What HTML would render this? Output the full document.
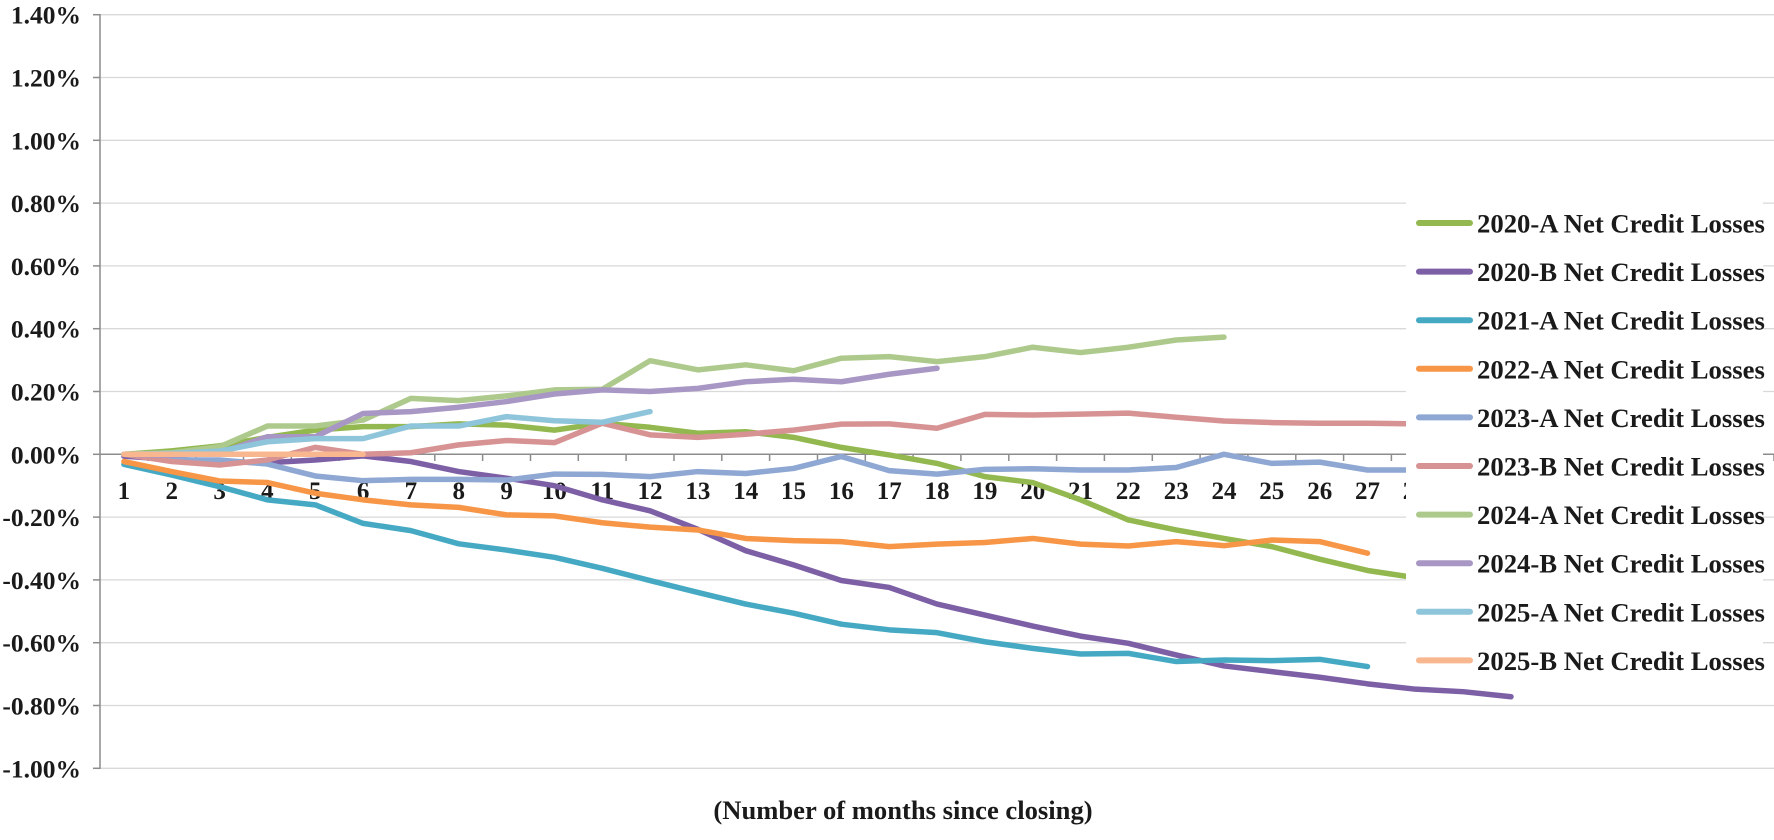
<!DOCTYPE html>
<html>
<head>
<meta charset="utf-8">
<style>
  html, body { margin: 0; padding: 0; background: #ffffff; }
  svg { display: block; }
  text { font-family: "Liberation Serif", "Times New Roman", serif; font-weight: bold; fill: #1a1a1a; }
</style>
</head>
<body>
<svg width="1774" height="840" viewBox="0 0 1774 840" xmlns="http://www.w3.org/2000/svg">
  <rect x="0" y="0" width="1774" height="840" fill="#ffffff"/>

  <!-- gridlines -->
  <g stroke="#d9d9d9" stroke-width="1.3">
    <line x1="100" y1="14.7" x2="1774" y2="14.7"/>
    <line x1="100" y1="77.5" x2="1774" y2="77.5"/>
    <line x1="100" y1="140.3" x2="1774" y2="140.3"/>
    <line x1="100" y1="203.1" x2="1774" y2="203.1"/>
    <line x1="100" y1="265.9" x2="1774" y2="265.9"/>
    <line x1="100" y1="328.7" x2="1774" y2="328.7"/>
    <line x1="100" y1="391.5" x2="1774" y2="391.5"/>
    <line x1="100" y1="517.1" x2="1774" y2="517.1"/>
    <line x1="100" y1="579.9" x2="1774" y2="579.9"/>
    <line x1="100" y1="642.7" x2="1774" y2="642.7"/>
    <line x1="100" y1="705.5" x2="1774" y2="705.5"/>
    <line x1="100" y1="768.3" x2="1774" y2="768.3"/>
  </g>

  <!-- axes -->
  <g stroke="#8c8c8c" stroke-width="1.5">
    <line x1="100" y1="14" x2="100" y2="769"/>
    <line x1="100" y1="454.3" x2="1774" y2="454.3"/>
    <!-- y ticks -->
    <line x1="93" y1="14.7" x2="100" y2="14.7"/>
    <line x1="93" y1="77.5" x2="100" y2="77.5"/>
    <line x1="93" y1="140.3" x2="100" y2="140.3"/>
    <line x1="93" y1="203.1" x2="100" y2="203.1"/>
    <line x1="93" y1="265.9" x2="100" y2="265.9"/>
    <line x1="93" y1="328.7" x2="100" y2="328.7"/>
    <line x1="93" y1="391.5" x2="100" y2="391.5"/>
    <line x1="93" y1="454.3" x2="100" y2="454.3"/>
    <line x1="93" y1="517.1" x2="100" y2="517.1"/>
    <line x1="93" y1="579.9" x2="100" y2="579.9"/>
    <line x1="93" y1="642.7" x2="100" y2="642.7"/>
    <line x1="93" y1="705.5" x2="100" y2="705.5"/>
    <line x1="93" y1="768.3" x2="100" y2="768.3"/>
  </g>
  <!-- x ticks -->
  <g stroke="#8c8c8c" stroke-width="1.5">
    <line x1="147.8" y1="454" x2="147.8" y2="461"/>
    <line x1="195.7" y1="454" x2="195.7" y2="461"/>
    <line x1="243.5" y1="454" x2="243.5" y2="461"/>
    <line x1="291.3" y1="454" x2="291.3" y2="461"/>
    <line x1="339.2" y1="454" x2="339.2" y2="461"/>
    <line x1="387.0" y1="454" x2="387.0" y2="461"/>
    <line x1="434.8" y1="454" x2="434.8" y2="461"/>
    <line x1="482.6" y1="454" x2="482.6" y2="461"/>
    <line x1="530.5" y1="454" x2="530.5" y2="461"/>
    <line x1="578.3" y1="454" x2="578.3" y2="461"/>
    <line x1="626.1" y1="454" x2="626.1" y2="461"/>
    <line x1="674.0" y1="454" x2="674.0" y2="461"/>
    <line x1="721.8" y1="454" x2="721.8" y2="461"/>
    <line x1="769.6" y1="454" x2="769.6" y2="461"/>
    <line x1="817.5" y1="454" x2="817.5" y2="461"/>
    <line x1="865.3" y1="454" x2="865.3" y2="461"/>
    <line x1="913.1" y1="454" x2="913.1" y2="461"/>
    <line x1="960.9" y1="454" x2="960.9" y2="461"/>
    <line x1="1008.8" y1="454" x2="1008.8" y2="461"/>
    <line x1="1056.6" y1="454" x2="1056.6" y2="461"/>
    <line x1="1104.4" y1="454" x2="1104.4" y2="461"/>
    <line x1="1152.3" y1="454" x2="1152.3" y2="461"/>
    <line x1="1200.1" y1="454" x2="1200.1" y2="461"/>
    <line x1="1247.9" y1="454" x2="1247.9" y2="461"/>
    <line x1="1295.8" y1="454" x2="1295.8" y2="461"/>
    <line x1="1343.6" y1="454" x2="1343.6" y2="461"/>
    <line x1="1391.4" y1="454" x2="1391.4" y2="461"/>
    <line x1="1439.2" y1="454" x2="1439.2" y2="461"/>
    <line x1="1487.1" y1="454" x2="1487.1" y2="461"/>
    <line x1="1534.9" y1="454" x2="1534.9" y2="461"/>
    <line x1="1582.7" y1="454" x2="1582.7" y2="461"/>
    <line x1="1630.6" y1="454" x2="1630.6" y2="461"/>
    <line x1="1678.4" y1="454" x2="1678.4" y2="461"/>
    <line x1="1726.2" y1="454" x2="1726.2" y2="461"/>
    <line x1="1774" y1="454" x2="1774" y2="461"/>
  </g>

  <!-- y axis labels -->
  <g font-size="25.5" text-anchor="end">
    <text x="81" y="23.7">1.40%</text>
    <text x="81" y="86.5">1.20%</text>
    <text x="81" y="149.3">1.00%</text>
    <text x="81" y="212.1">0.80%</text>
    <text x="81" y="274.9">0.60%</text>
    <text x="81" y="337.7">0.40%</text>
    <text x="81" y="400.5">0.20%</text>
    <text x="81" y="463.3">0.00%</text>
    <text x="81" y="526.1">-0.20%</text>
    <text x="81" y="588.9">-0.40%</text>
    <text x="81" y="651.7">-0.60%</text>
    <text x="81" y="714.5">-0.80%</text>
    <text x="81" y="777.3">-1.00%</text>
  </g>

  <!-- x axis labels -->
  <g font-size="25" text-anchor="middle">
    <text x="123.9" y="499">1</text>
    <text x="171.7" y="499">2</text>
    <text x="219.6" y="499">3</text>
    <text x="267.4" y="499">4</text>
    <text x="315.2" y="499">5</text>
    <text x="363.1" y="499">6</text>
    <text x="410.9" y="499">7</text>
    <text x="458.7" y="499">8</text>
    <text x="506.6" y="499">9</text>
    <text x="554.4" y="499">10</text>
    <text x="602.2" y="499">11</text>
    <text x="650.0" y="499">12</text>
    <text x="697.9" y="499">13</text>
    <text x="745.7" y="499">14</text>
    <text x="793.5" y="499">15</text>
    <text x="841.4" y="499">16</text>
    <text x="889.2" y="499">17</text>
    <text x="937.0" y="499">18</text>
    <text x="984.9" y="499">19</text>
    <text x="1032.7" y="499">20</text>
    <text x="1080.5" y="499">21</text>
    <text x="1128.3" y="499">22</text>
    <text x="1176.2" y="499">23</text>
    <text x="1224.0" y="499">24</text>
    <text x="1271.8" y="499">25</text>
    <text x="1319.7" y="499">26</text>
    <text x="1367.5" y="499">27</text>
    <text x="1415.3" y="499">28</text>
  </g>

  <!-- series: data coords x = month, y = value in thousandths of a percent -->
  <g transform="matrix(47.83,0,0,-0.314,76.085,454.3)" fill="none" stroke-width="5.5" stroke-linejoin="round" stroke-linecap="round">
    <polyline vector-effect="non-scaling-stroke" stroke="#92b84f" points="1,0 2,11 3,27 4,54 5,77 6,88 7,88 8,97 9,93 10,77 11,99 12,86 13,67 14,72 15,54 16,22 17,-2 18,-29 19,-71 20,-90 21,-145 22,-209 23,-241 24,-268 25,-294 26,-334 27,-370 28,-393 29,-410"/>
    <polyline vector-effect="non-scaling-stroke" stroke="#7d5fa6" points="1,-6 2,-16 3,-23 4,-27 5,-18 6,-5 7,-23 8,-55 9,-76 10,-100 11,-145 12,-180 13,-239 14,-307 15,-352 16,-402 17,-424 18,-477 19,-512 20,-547 21,-579 22,-602 23,-639 24,-674 25,-692 26,-710 27,-731 28,-748 29,-756 30,-772"/>
    <polyline vector-effect="non-scaling-stroke" stroke="#45a9c4" points="1,-32 2,-66 3,-103 4,-145 5,-161 6,-220 7,-243 8,-285 9,-305 10,-328 11,-363 12,-402 13,-440 14,-477 15,-506 16,-541 17,-559 18,-568 19,-597 20,-618 21,-636 22,-634 23,-660 24,-655 25,-657 26,-653 27,-676"/>
    <polyline vector-effect="non-scaling-stroke" stroke="#f79646" points="1,-23 2,-55 3,-85 4,-90 5,-124 6,-145 7,-161 8,-169 9,-193 10,-196 11,-218 12,-232 13,-241 14,-268 15,-275 16,-278 17,-294 18,-286 19,-281 20,-268 21,-286 22,-292 23,-278 24,-291 25,-273 26,-278 27,-315"/>
    <polyline vector-effect="non-scaling-stroke" stroke="#8ea7d3" points="1,0 2,-18 3,-18 4,-31 5,-69 6,-84 7,-80 8,-80 9,-82 10,-63 11,-64 12,-71 13,-55 14,-61 15,-45 16,-7 17,-52 18,-63 19,-48 20,-46 21,-50 22,-50 23,-42 24,0 25,-29 26,-25 27,-50 28,-50 29,-50"/>
    <polyline vector-effect="non-scaling-stroke" stroke="#d79393" points="1,0 2,-23 3,-34 4,-18 5,22 6,0 7,5 8,30 9,44 10,37 11,99 12,62 13,54 14,64 15,77 16,96 17,97 18,83 19,127 20,125 21,128 22,131 23,118 24,106 25,101 26,99 27,99 28,97 29,97"/>
    <polyline vector-effect="non-scaling-stroke" stroke="#adca8c" points="1,0 2,5 3,24 4,90 5,90 6,109 7,178 8,171 9,186 10,205 11,207 12,298 13,269 14,285 15,266 16,306 17,311 18,295 19,311 20,341 21,324 22,341 23,364 24,373"/>
    <polyline vector-effect="non-scaling-stroke" stroke="#a897c4" points="1,0 2,-3 3,5 4,56 5,56 6,130 7,136 8,150 9,168 10,192 11,205 12,200 13,210 14,231 15,239 16,231 17,255 18,274"/>
    <polyline vector-effect="non-scaling-stroke" stroke="#8ec5da" points="1,0 2,3 3,10 4,40 5,50 6,50 7,90 8,90 9,120 10,107 11,102 12,136"/>
    <polyline vector-effect="non-scaling-stroke" stroke="#f8b78f" points="1,0 2,0 3,0 4,0 5,0 6,0"/>
  </g>

  <!-- legend box -->
  <rect x="1406" y="190" width="357" height="494" fill="#ffffff"/>
  <g stroke-width="6" stroke-linecap="round">
    <line x1="1419" y1="223" x2="1470" y2="223" stroke="#92b84f"/>
    <line x1="1419" y1="271.6" x2="1470" y2="271.6" stroke="#7d5fa6"/>
    <line x1="1419" y1="320.2" x2="1470" y2="320.2" stroke="#45a9c4"/>
    <line x1="1419" y1="368.8" x2="1470" y2="368.8" stroke="#f79646"/>
    <line x1="1419" y1="417.4" x2="1470" y2="417.4" stroke="#8ea7d3"/>
    <line x1="1419" y1="466" x2="1470" y2="466" stroke="#d79393"/>
    <line x1="1419" y1="514.6" x2="1470" y2="514.6" stroke="#adca8c"/>
    <line x1="1419" y1="563.2" x2="1470" y2="563.2" stroke="#a897c4"/>
    <line x1="1419" y1="611.8" x2="1470" y2="611.8" stroke="#8ec5da"/>
    <line x1="1419" y1="660.4" x2="1470" y2="660.4" stroke="#f8b78f"/>
  </g>
  <g font-size="26.7">
    <text x="1477" y="232.5">2020-A Net Credit Losses</text>
    <text x="1477" y="281.1">2020-B Net Credit Losses</text>
    <text x="1477" y="329.7">2021-A Net Credit Losses</text>
    <text x="1477" y="378.3">2022-A Net Credit Losses</text>
    <text x="1477" y="426.9">2023-A Net Credit Losses</text>
    <text x="1477" y="475.5">2023-B Net Credit Losses</text>
    <text x="1477" y="524.1">2024-A Net Credit Losses</text>
    <text x="1477" y="572.7">2024-B Net Credit Losses</text>
    <text x="1477" y="621.3">2025-A Net Credit Losses</text>
    <text x="1477" y="669.9">2025-B Net Credit Losses</text>
  </g>

  <!-- axis title -->
  <text x="903" y="819" font-size="26.6" text-anchor="middle">(Number of months since closing)</text>
</svg>
</body>
</html>
